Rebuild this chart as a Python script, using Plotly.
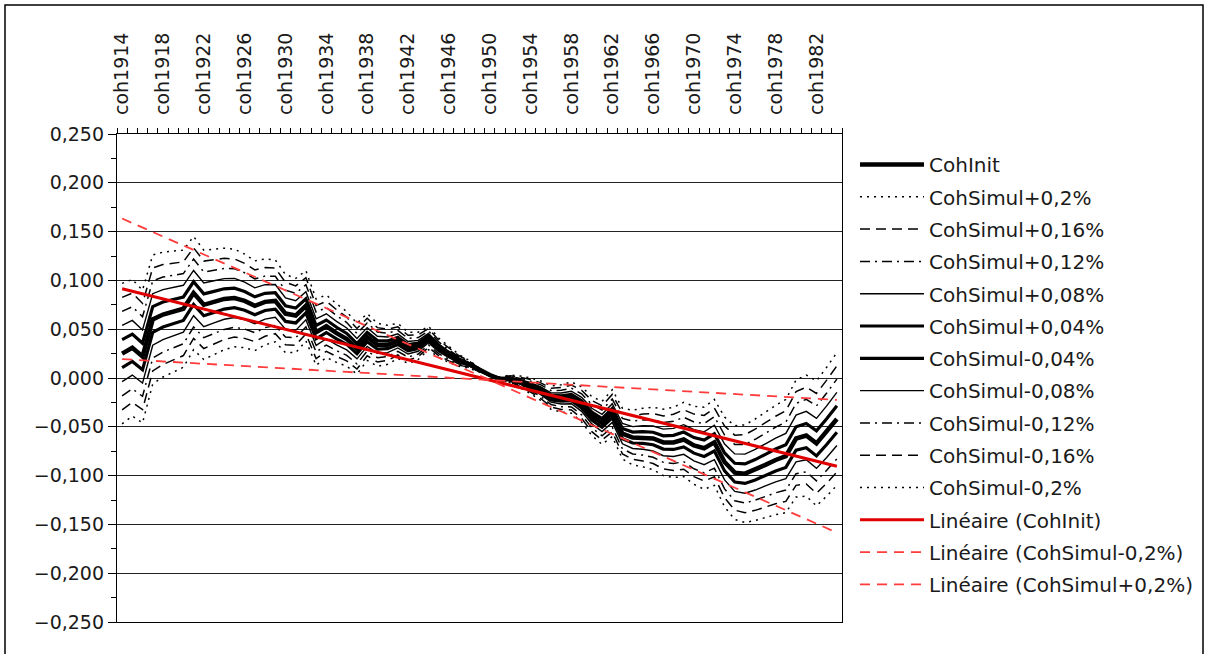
import numpy as np
import plotly.graph_objects as go

# --- DATA ---
years = list(range(1914, 1985))
coh_init = [
    0.025, 0.031, 0.022, 0.060, 0.065, 0.068, 0.071, 0.087, 0.075, 0.078,
    0.081, 0.082, 0.079, 0.074, 0.078, 0.079, 0.066, 0.064, 0.074, 0.047,
    0.053, 0.046, 0.040, 0.030, 0.042, 0.034, 0.034, 0.038, 0.031, 0.033,
    0.041, 0.031, 0.024, 0.018, 0.014, 0.008, 0.003, -0.001, -0.001, -0.004,
    -0.008, -0.013, -0.020, -0.021, -0.020, -0.027, -0.039, -0.046, -0.036, -0.057,
    -0.061, -0.061, -0.062, -0.066, -0.066, -0.063, -0.069, -0.072, -0.066, -0.086,
    -0.097, -0.098, -0.094, -0.089, -0.084, -0.080, -0.062, -0.059, -0.067, -0.055,
    -0.042,
]
label_years = list(range(1914, 1983, 4))
label_text = ["coh%d" % y for y in label_years]

# simulated cohorts: CohInit drifted by a yearly rate (in %) around the 1950 pivot
sim_names = ["CohSimul+0,2%", "CohSimul+0,16%", "CohSimul+0,12%", "CohSimul+0,08%",
             "CohSimul+0,04%", "CohSimul-0,04%", "CohSimul-0,08%", "CohSimul-0,12%",
             "CohSimul-0,16%", "CohSimul-0,2%"]
sim_rates = [0.2, 0.16, 0.12, 0.08, 0.04, -0.04, -0.08, -0.12, -0.16, -0.2]
pivot_year = 1950

# --- STYLES ---
sim_style = {
    0.2: dict(width=1.5, dash="2px,5px"),
    0.16: dict(width=1.5, dash="10px,6px"),
    0.12: dict(width=1.5, dash="10px,5px,2px,5px"),
    0.08: dict(width=1.4, dash="solid"),
    0.04: dict(width=3.2, dash="solid"),
}

yrs = np.array(years)
init = np.array(coh_init)

fig = go.Figure()

fig.add_trace(go.Scatter(x=years, y=coh_init, mode="lines", name="CohInit",
                         line=dict(color="black", width=4.5), legendgroup="g0"))

sims = {}
for i, (name, rate) in enumerate(zip(sim_names, sim_rates)):
    vals = init + rate / 100 * (yrs - pivot_year)
    sims[name] = vals
    st = sim_style[abs(rate)]
    fig.add_trace(go.Scatter(x=years, y=vals, mode="lines", name=name,
                             line=dict(color="black", width=st["width"], dash=st["dash"]),
                             legendgroup="g%d" % (i + 1)))

# linear trendlines
trends = [("Linéaire (CohInit)", init, dict(color="#e00000", width=3, dash="solid")),
          ("Linéaire (CohSimul-0,2%)", sims["CohSimul-0,2%"], dict(color="#ff3b3b", width=1.8, dash="10px,7px")),
          ("Linéaire (CohSimul+0,2%)", sims["CohSimul+0,2%"], dict(color="#ff3b3b", width=1.8, dash="10px,7px"))]
for j, (name, vals, ln) in enumerate(trends):
    fit = np.polyfit(yrs, vals, 1)
    fig.add_trace(go.Scatter(x=years, y=np.polyval(fit, yrs), mode="lines", name=name,
                             line=ln, legendgroup="t%d" % j))

# outer chart frame
L, R, T, B = 117, 842, 134, 622
pw, ph = R - L, B - T
fig.add_shape(type="rect", xref="paper", yref="paper",
              x0=(5 - L) / pw, x1=(1203 - L) / pw, y0=(B - 670) / ph, y1=(B - 5) / ph,
              line=dict(color="black", width=1.5), fillcolor="rgba(0,0,0,0)", layer="below")

fig.update_layout(
    width=1209, height=654,
    margin=dict(l=L, r=1209 - R, t=T, b=654 - B),
    paper_bgcolor="white", plot_bgcolor="white",
    font=dict(family="DejaVu Sans", size=19, color="#1a1a1a"),
    separators=", ",
    showlegend=True,
    legend=dict(xref="container", yref="container", x=855 / 1209, y=1 - 145 / 654,
                xanchor="left", yanchor="top", font=dict(size=20), maxheight=640,
                tracegroupgap=3.3, itemwidth=64, bgcolor="rgba(0,0,0,0)"),
    xaxis=dict(
        range=[1913.5, 1984.5], side="top",
        tickmode="array", tickvals=label_years, ticktext=label_text, tickangle=-90,
        ticks="outside", ticklen=14, tickcolor="rgba(0,0,0,0)",
        minor=dict(tick0=1913.5, dtick=1, ticks="outside", ticklen=5, tickcolor="black", showgrid=False),
        showgrid=False, zeroline=False,
        showline=True, linecolor="black", linewidth=1.3, mirror=True,
        tickfont=dict(size=19),
    ),
    yaxis=dict(
        range=[-0.25, 0.25], dtick=0.05, tickformat=".3f",
        ticks="outside", ticklen=8, tickcolor="black",
        minor=dict(dtick=0.025, ticks="outside", ticklen=5, tickcolor="black", showgrid=False),
        showgrid=True, gridcolor="#222222", gridwidth=1.2, zeroline=False,
        showline=True, linecolor="black", linewidth=1.3, mirror=True,
        tickfont=dict(size=19),
    ),
)

fig.write_html("out.html", config={"displayModeBar": False},
               post_script="document.body.style.margin='0';document.body.style.overflow='hidden';")
